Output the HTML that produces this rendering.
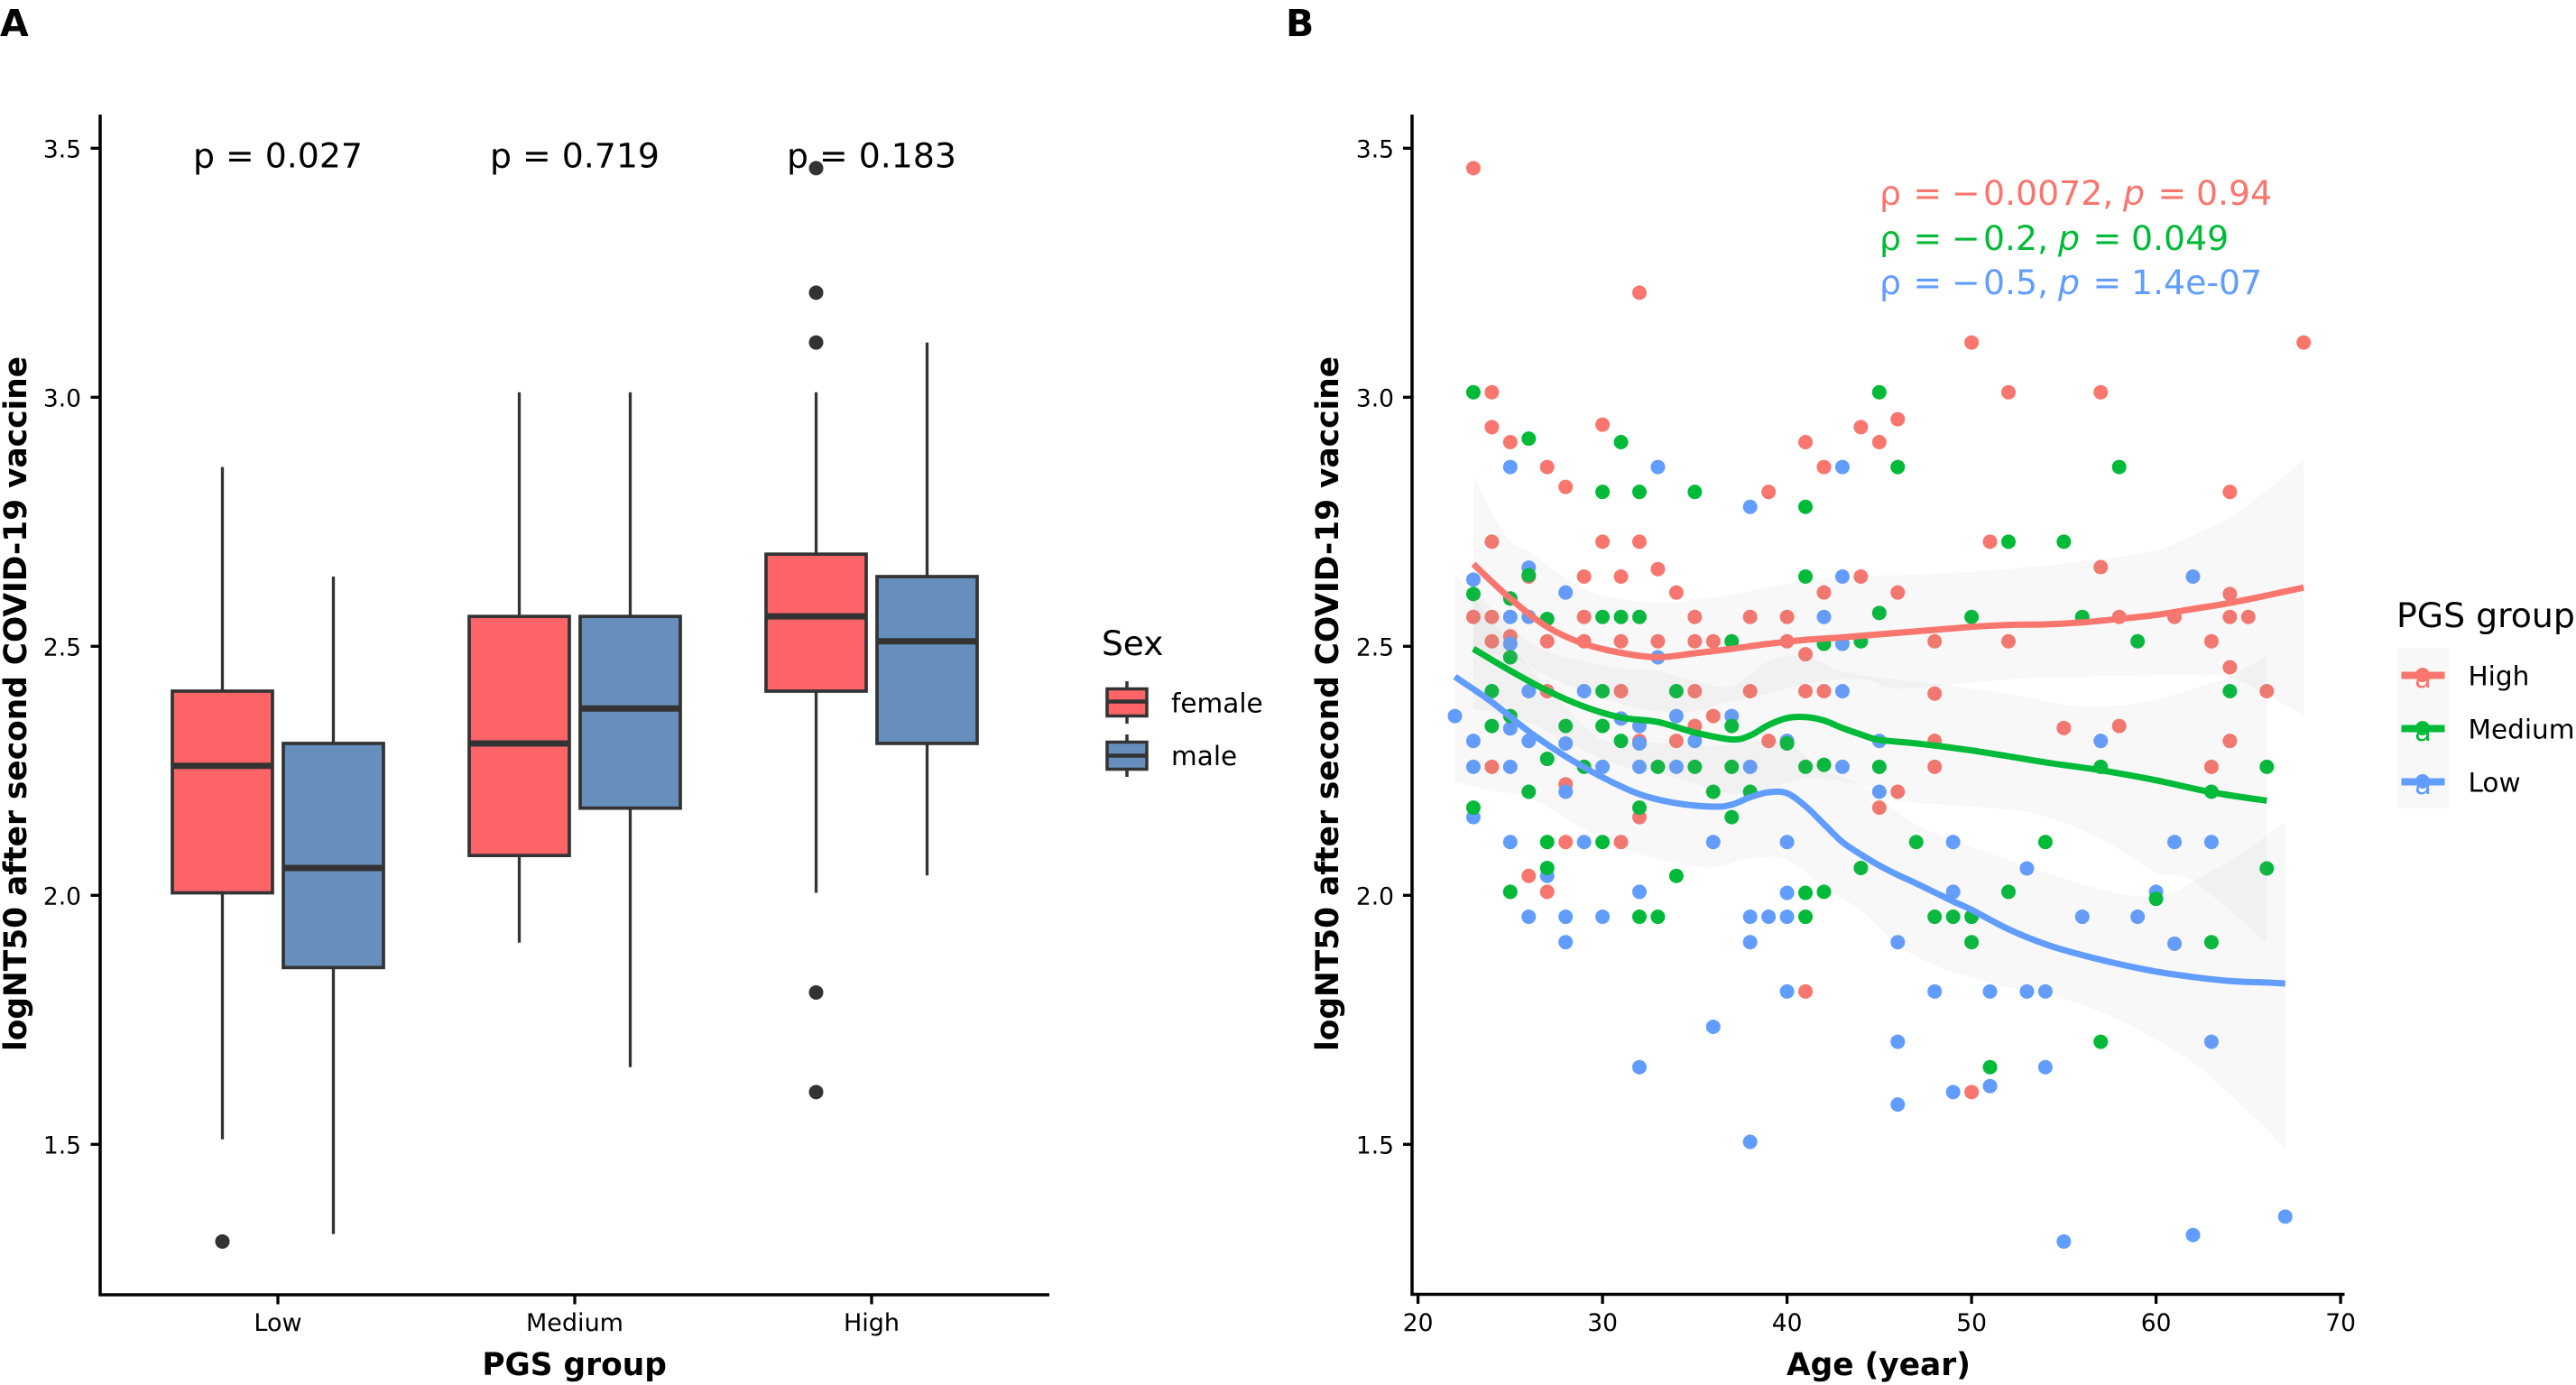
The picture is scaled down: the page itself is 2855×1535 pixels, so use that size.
<!DOCTYPE html>
<html lang="en">
<head>
<meta charset="utf-8">
<title>logNT50 by PGS group, sex and age</title>
<style>
html,body{margin:0;padding:0;background:#fff;width:2855px;height:1535px;overflow:hidden}
svg{display:block;font-family:"DejaVu Sans","Liberation Sans",sans-serif}
</style>
</head>
<body>
<svg id="chart" xmlns="http://www.w3.org/2000/svg" width="2855" height="1535" viewBox="0 0 2855 1535">
  <rect x="0" y="0" width="2855" height="1535" fill="#ffffff"/>
  <text x="0" y="40" font-size="41" font-weight="bold">A</text>
  <text x="1425" y="40" font-size="41" font-weight="bold">B</text>

  <g id="panelA"></g>
  <g id="panelB"></g>

  <text transform="translate(29,780) rotate(-90)" text-anchor="middle" font-size="34.4" font-weight="bold">logNT50 after second COVID-19 vaccine</text>
  <text x="636.6" y="1524" text-anchor="middle" font-size="34.4" font-weight="bold">PGS group</text>
  <text transform="translate(1483,780) rotate(-90)" text-anchor="middle" font-size="34.4" font-weight="bold">logNT50 after second COVID-19 vaccine</text>
  <text x="2082" y="1524" text-anchor="middle" font-size="34.4" font-weight="bold">Age (year)</text>

  <g font-size="37.8">
    <text y="227" fill="#F8766D"><tspan x="2083">ρ</tspan><tspan x="2120.5">=</tspan><tspan x="2163">−</tspan><tspan x="2198">0.0072,</tspan><tspan x="2353" font-style="italic">p</tspan><tspan x="2391.5">=</tspan><tspan x="2434">0.94</tspan></text>
    <text y="277" fill="#00BA38"><tspan x="2083">ρ</tspan><tspan x="2120.5">=</tspan><tspan x="2163">−</tspan><tspan x="2198">0.2,</tspan><tspan x="2281" font-style="italic">p</tspan><tspan x="2319.5">=</tspan><tspan x="2362">0.049</tspan></text>
    <text y="326" fill="#619CFF"><tspan x="2083">ρ</tspan><tspan x="2120.5">=</tspan><tspan x="2163">−</tspan><tspan x="2198">0.5,</tspan><tspan x="2281" font-style="italic">p</tspan><tspan x="2319.5">=</tspan><tspan x="2362">1.4e-07</tspan></text>
  </g>

  <g>
    <text x="1221" y="726" font-size="37.5">Sex</text>
    <g stroke="#333333">
      <line x1="1249" x2="1249" y1="755" y2="802" stroke-width="3.5"/>
      <rect x="1227" y="763.5" width="44" height="30" fill="#FC6468" stroke-width="3.5"/>
      <line x1="1227" x2="1271" y1="777.5" y2="777.5" stroke-width="4.5"/>
    </g>
    <text x="1298" y="789.5" font-size="29.5">female</text>
    <g stroke="#333333">
      <line x1="1249" x2="1249" y1="814" y2="861" stroke-width="3.5"/>
      <rect x="1227" y="822.5" width="44" height="30" fill="#668FBD" stroke-width="3.5"/>
      <line x1="1227" x2="1271" y1="837.5" y2="837.5" stroke-width="4.5"/>
    </g>
    <text x="1298" y="848" font-size="29.5">male</text>
  </g>

  <g>
    <text x="2656" y="695" font-size="37.8">PGS group</text>
    <rect x="2656.5" y="718" width="58.5" height="178" fill="#f8f8f8"/>
    <g fill="#F8766D">
      <text x="2685.5" y="762" font-size="31" text-anchor="middle">a</text>
      <rect x="2661.5" y="744.5" width="48" height="8"/>
      <circle cx="2685" cy="748" r="8"/>
    </g>
    <text x="2735.5" y="759.5" font-size="29.5">High</text>
    <g fill="#00BA38">
      <text x="2685.5" y="821" font-size="31" text-anchor="middle">a</text>
      <rect x="2661.5" y="803.5" width="48" height="8"/>
      <circle cx="2685" cy="807" r="8"/>
    </g>
    <text x="2735.5" y="818.5" font-size="29.5">Medium</text>
    <g fill="#619CFF">
      <text x="2685.5" y="880" font-size="31" text-anchor="middle">a</text>
      <rect x="2661.5" y="862.5" width="48" height="8"/>
      <circle cx="2685" cy="866" r="8"/>
    </g>
    <text x="2735.5" y="877.5" font-size="29.5">Low</text>
  </g>
</svg>

<script>
// ---------- Panel A data ----------
const groupLabels = ['Low', 'Medium', 'High'];
const pLabels = ['p = 0.027', 'p = 0.719', 'p = 0.183'];
const yTickValues = [1.5, 2.0, 2.5, 3.0, 3.5];
const yTickLabels = ['1.5', '2.0', '2.5', '3.0', '3.5'];

const femaleQ1 = [2.005, 2.08, 2.41];
const femaleMedian = [2.26, 2.305, 2.56];
const femaleQ3 = [2.41, 2.56, 2.685];
const femaleWhiskerLow = [1.51, 1.905, 2.005];
const femaleWhiskerHigh = [2.86, 3.01, 3.01];
const femaleOutliers = [[1.305], [], [3.46, 3.21, 3.11, 1.805, 1.605]];

const maleQ1 = [1.855, 2.175, 2.305];
const maleMedian = [2.055, 2.375, 2.51];
const maleQ3 = [2.305, 2.56, 2.64];
const maleWhiskerLow = [1.32, 1.655, 2.04];
const maleWhiskerHigh = [2.64, 3.01, 3.11];
const maleOutliers = [[], [], []];

// ---------- Panel B data ----------
const xTickValues = [20, 30, 40, 50, 60, 70];
const xTickLabels = ['20', '30', '40', '50', '60', '70'];

const highAge = [23,32,24,24,25,27,28,30,24,30,32,39,41,42,44,45,46,50,68,52,57,64,51,26,29,31,33,34,42,44,46,23,24,29,35,38,40,25,24,27,29,31,33,35,36,40,41,27,31,35,38,41,42,36,35,32,34,39,24,28,46,45,32,28,31,26,27,41,57,64,58,61,64,65,48,52,63,64,66,48,55,58,48,64,48,63,50];
const highValue = [3.46,3.21,3.01,2.94,2.91,2.86,2.82,2.945,2.71,2.71,2.71,2.81,2.91,2.86,2.94,2.91,2.956,3.11,3.11,3.01,3.01,2.81,2.71,2.64,2.64,2.64,2.655,2.608,2.608,2.64,2.608,2.559,2.559,2.559,2.559,2.559,2.559,2.52,2.51,2.51,2.51,2.51,2.51,2.51,2.51,2.51,2.484,2.41,2.41,2.41,2.41,2.41,2.41,2.36,2.34,2.31,2.31,2.31,2.258,2.223,2.208,2.176,2.157,2.107,2.107,2.039,2.007,1.807,2.659,2.605,2.559,2.559,2.559,2.559,2.51,2.51,2.51,2.458,2.41,2.405,2.336,2.34,2.31,2.31,2.258,2.258,1.605];

const lowAge = [25,33,38,43,26,23,28,43,25,26,42,25,43,33,26,29,43,22,31,34,37,25,32,23,26,28,32,35,40,45,23,25,30,32,34,38,43,28,45,23,25,29,36,40,27,32,40,26,28,30,38,39,40,28,38,46,40,62,57,49,61,63,53,49,60,56,59,61,48,51,53,54,36,32,46,63,54,49,51,46,38,67,62,55];
const lowValue = [2.86,2.86,2.78,2.86,2.658,2.634,2.608,2.64,2.559,2.559,2.559,2.505,2.505,2.478,2.41,2.41,2.41,2.36,2.355,2.36,2.36,2.335,2.34,2.31,2.31,2.305,2.305,2.31,2.31,2.31,2.258,2.258,2.258,2.258,2.258,2.258,2.258,2.208,2.208,2.157,2.107,2.107,2.107,2.107,2.039,2.007,2.005,1.957,1.957,1.957,1.957,1.957,1.957,1.906,1.906,1.906,1.807,2.64,2.31,2.107,2.107,2.107,2.054,2.007,2.007,1.957,1.957,1.903,1.807,1.807,1.807,1.807,1.736,1.655,1.706,1.706,1.655,1.605,1.617,1.58,1.505,1.355,1.318,1.305];

const mediumAge = [23,26,31,30,32,35,41,45,46,52,55,58,26,41,23,25,27,30,31,32,45,37,42,44,25,24,30,34,25,24,28,30,37,31,40,27,29,33,35,37,41,42,45,26,36,38,23,32,37,27,30,47,27,44,34,25,41,42,32,33,41,50,56,59,64,57,66,63,54,66,52,60,48,49,50,50,63,51,57];
const mediumValue = [3.01,2.917,2.91,2.81,2.81,2.81,2.78,3.01,2.86,2.71,2.71,2.86,2.643,2.64,2.605,2.596,2.555,2.559,2.559,2.559,2.567,2.51,2.505,2.51,2.478,2.41,2.41,2.41,2.36,2.34,2.34,2.34,2.34,2.31,2.305,2.274,2.258,2.258,2.258,2.258,2.258,2.262,2.258,2.208,2.208,2.208,2.176,2.176,2.157,2.107,2.107,2.107,2.055,2.055,2.039,2.007,2.005,2.007,1.957,1.957,1.957,2.559,2.559,2.51,2.41,2.258,2.258,2.208,2.107,2.054,2.007,1.993,1.957,1.957,1.957,1.906,1.906,1.655,1.706];

const highLineAge = [23,25,27,29,31,33,35,37,39,41,43,46,50,52,54,56,58,60,62,64,66,68];
const highLineValue = [2.665,2.596,2.539,2.505,2.487,2.478,2.486,2.495,2.505,2.513,2.518,2.527,2.539,2.543,2.544,2.548,2.555,2.563,2.575,2.587,2.602,2.618];
const mediumLineAge = [23,25,27,29,31,33,35,37,38,39,40,41,42,43,44,45,47,50,54,57,60,63,66];
const mediumLineValue = [2.495,2.451,2.411,2.379,2.357,2.348,2.327,2.313,2.321,2.342,2.356,2.358,2.351,2.336,2.323,2.312,2.305,2.291,2.267,2.251,2.231,2.207,2.19];
const lowLineAge = [22,24,26,28,30,32,34,36,37,38,39,40,41,42,43,44,45,46,47,48,49,50,52,54,56,58,60,62,64,66,67];
const lowLineValue = [2.439,2.388,2.329,2.279,2.237,2.203,2.185,2.178,2.182,2.197,2.207,2.205,2.179,2.143,2.107,2.082,2.06,2.041,2.024,2.006,1.988,1.971,1.932,1.902,1.88,1.862,1.847,1.836,1.828,1.825,1.823];

const highUpperAge = [23,24,25,26,28,30,33,35,38,41,44,47,52,57,60,62,64,66,68];
const highUpperValue = [2.844,2.77,2.71,2.69,2.638,2.602,2.587,2.593,2.611,2.632,2.641,2.644,2.655,2.675,2.693,2.723,2.759,2.813,2.874];
const highLowerAge = [23,25,27,29,31,33,35,37,39,41,44,46,50,53,56,60,62,64,66,68];
const highLowerValue = [2.486,2.48,2.44,2.41,2.385,2.37,2.37,2.39,2.405,2.425,2.435,2.415,2.427,2.436,2.439,2.442,2.442,2.438,2.403,2.36];

const mediumUpperAge = [23,25,27,29,31,33,35,37,39,41,43,46,50,53,56,59,61,63,64,66];
const mediumUpperValue = [2.615,2.54,2.49,2.47,2.455,2.451,2.43,2.42,2.47,2.48,2.45,2.433,2.415,2.397,2.379,2.385,2.403,2.427,2.439,2.482];
const mediumLowerAge = [23,25,27,29,31,33,35,37,39,41,44,46,53,57,60,62,66];
const mediumLowerValue = [2.375,2.36,2.33,2.29,2.26,2.245,2.225,2.205,2.215,2.235,2.222,2.19,2.167,2.113,2.046,2.028,1.905];

const lowUpperAge = [22,24,26,28,30,33,36,38,40,42,44,46,48,53,56,59,61,62,64,67];
const lowUpperValue = [2.65,2.55,2.46,2.38,2.312,2.306,2.30,2.309,2.306,2.252,2.222,2.167,2.125,2.059,2.022,1.998,2.007,2.028,2.07,2.146];
const lowLowerAge = [22,24,26,28,30,32,34,36,38,40,42,44,46,48,50,52,54,56,58,60,62,64,66,67];
const lowLowerValue = [2.228,2.21,2.197,2.155,2.113,2.083,2.065,2.056,2.074,2.071,2.016,1.97,1.90,1.86,1.835,1.815,1.803,1.78,1.75,1.71,1.665,1.60,1.53,1.49];

// ---------- Scales ----------
const NS = 'http://www.w3.org/2000/svg';
const yScale = v => 164.3 + (3.5 - v) * 552;
const ageScale = a => 1571.6 + (a - 20) * 20.45;
const groupScale = i => 308 + i * 329;
const boxHalf = 55.5;
const dodge = 61.5;

function mk(tag, attrs, parent, text) {
  const el = document.createElementNS(NS, tag);
  for (const k in attrs) el.setAttribute(k, attrs[k]);
  if (text !== undefined) el.textContent = text;
  parent.appendChild(el);
  return el;
}

function smoothSegments(pts) {
  let d = '';
  for (let i = 0; i < pts.length - 1; i++) {
    const p0 = pts[Math.max(i - 1, 0)];
    const p1 = pts[i];
    const p2 = pts[i + 1];
    const p3 = pts[Math.min(i + 2, pts.length - 1)];
    const c1x = p1[0] + (p2[0] - p0[0]) / 6;
    const c1y = p1[1] + (p2[1] - p0[1]) / 6;
    const c2x = p2[0] - (p3[0] - p1[0]) / 6;
    const c2y = p2[1] - (p3[1] - p1[1]) / 6;
    d += 'C' + c1x.toFixed(1) + ' ' + c1y.toFixed(1) + ' ' + c2x.toFixed(1) + ' ' + c2y.toFixed(1) + ' ' + p2[0].toFixed(1) + ' ' + p2[1].toFixed(1);
  }
  return d;
}

function toPoints(ages, values) {
  return ages.map((a, i) => [ageScale(a), yScale(values[i])]);
}

// ---------- Panel A ----------
const panelA = document.getElementById('panelA');

function drawBoxes(sexName, offset, fill, q1, med, q3, wLow, wHigh, outliers) {
  groupLabels.forEach((label, i) => {
    const cx = groupScale(i) + offset;
    const g = mk('g', {}, panelA);
    
    
    mk('line', {x1: cx, x2: cx, y1: yScale(wHigh[i]), y2: yScale(wLow[i]), stroke: '#333333', 'stroke-width': 3.3}, g);
    mk('rect', {x: cx - boxHalf, y: yScale(q3[i]), width: boxHalf * 2, height: yScale(q1[i]) - yScale(q3[i]), fill: fill, stroke: '#333333', 'stroke-width': 3.7}, g);
    mk('line', {x1: cx - boxHalf, x2: cx + boxHalf, y1: yScale(med[i]), y2: yScale(med[i]), stroke: '#333333', 'stroke-width': 7}, g);
    outliers[i].forEach(v => {
      mk('circle', {cx: cx, cy: yScale(v), r: 8, fill: '#333333'}, g);
    });
  });
}
drawBoxes('female', -dodge, '#FC6468', femaleQ1, femaleMedian, femaleQ3, femaleWhiskerLow, femaleWhiskerHigh, femaleOutliers);
drawBoxes('male', dodge, '#668FBD', maleQ1, maleMedian, maleQ3, maleWhiskerLow, maleWhiskerHigh, maleOutliers);

pLabels.forEach((t, i) => {
  const el = mk('text', {x: groupScale(i), y: 185.5, 'text-anchor': 'middle', 'font-size': 37.8}, panelA, t);
  
  
});

const axisA = mk('path', {d: 'M111 127V1435H1163', fill: 'none', stroke: '#000', 'stroke-width': 3.5}, panelA);



yTickValues.forEach((v, i) => {
  const tick = mk('line', {x1: 100.5, x2: 111, y1: yScale(v), y2: yScale(v), stroke: '#000', 'stroke-width': 3.3}, panelA);
  
  
  const lab = mk('text', {x: 90, y: yScale(v) + 10, 'text-anchor': 'end', 'font-size': 26.5}, panelA, yTickLabels[i]);
  
  
});
groupLabels.forEach((label, i) => {
  const x = groupScale(i);
  const tick = mk('line', {x1: x, x2: x, y1: 1435, y2: 1445.5, stroke: '#000', 'stroke-width': 3.3}, panelA);
  
  
  const lab = mk('text', {x: x, y: 1475, 'text-anchor': 'middle', 'font-size': 27}, panelA, label);
  
  
});

// ---------- Panel B ----------
const panelB = document.getElementById('panelB');

function drawPoints(name, color, ages, values) {
  const g = mk('g', {fill: color}, panelB);
  
  
  ages.forEach((a, i) => {
    const c = mk('circle', {cx: ageScale(a), cy: yScale(values[i]), r: 8}, g);
    
    
  });
}
drawPoints('high', '#F8766D', highAge, highValue);
drawPoints('low', '#619CFF', lowAge, lowValue);
drawPoints('medium', '#00BA38', mediumAge, mediumValue);

function drawRibbon(name, upAges, upValues, loAges, loValues) {
  const up = toPoints(upAges, upValues);
  const lo = toPoints(loAges, loValues).reverse();
  const d = 'M' + up[0][0] + ' ' + up[0][1] + smoothSegments(up) + 'L' + lo[0][0] + ' ' + lo[0][1] + smoothSegments(lo) + 'Z';
  const el = mk('path', {d: d, fill: '#999999', 'fill-opacity': 0.07}, panelB);
  
  
}
drawRibbon('high', highUpperAge, highUpperValue, highLowerAge, highLowerValue);
drawRibbon('medium', mediumUpperAge, mediumUpperValue, mediumLowerAge, mediumLowerValue);
drawRibbon('low', lowUpperAge, lowUpperValue, lowLowerAge, lowLowerValue);

function drawLine(name, color, ages, values) {
  const pts = toPoints(ages, values);
  const el = mk('path', {d: 'M' + pts[0][0] + ' ' + pts[0][1] + smoothSegments(pts), fill: 'none', stroke: color, 'stroke-width': 7}, panelB);
  
  
}
drawLine('high', '#F8766D', highLineAge, highLineValue);
drawLine('medium', '#00BA38', mediumLineAge, mediumLineValue);
drawLine('low', '#619CFF', lowLineAge, lowLineValue);

const axisB = mk('path', {d: 'M1565 127V1434.5H2598.5', fill: 'none', stroke: '#000', 'stroke-width': 3.5}, panelB);



yTickValues.forEach((v, i) => {
  const tick = mk('line', {x1: 1555, x2: 1565, y1: yScale(v), y2: yScale(v), stroke: '#000', 'stroke-width': 3.3}, panelB);
  
  
  const lab = mk('text', {x: 1545, y: yScale(v) + 10, 'text-anchor': 'end', 'font-size': 26.5}, panelB, yTickLabels[i]);
  
  
});
xTickValues.forEach((v, i) => {
  const x = ageScale(v);
  const tick = mk('line', {x1: x, x2: x, y1: 1434.5, y2: 1445, stroke: '#000', 'stroke-width': 3.3}, panelB);
  
  
  const lab = mk('text', {x: x, y: 1475, 'text-anchor': 'middle', 'font-size': 26.5}, panelB, xTickLabels[i]);
  
  
});
</script>
</body>
</html>
